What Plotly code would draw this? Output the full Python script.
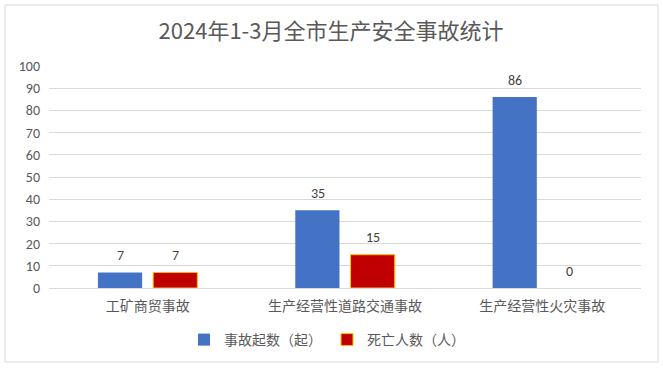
import plotly.graph_objects as go

categories = ["工矿商贸事故", "生产经营性道路交通事故", "生产经营性火灾事故"]
accidents = [7, 35, 86]
deaths = [7, 15, 0]
series_names = ["事故起数（起）", "死亡人数（人）"]
title = "2024年1-3月全市生产安全事故统计"

W, H = 663, 370
L, R, T, B = 49, 22, 66, 82
pw, ph = W - L - R, H - T - B

font = "Microsoft YaHei, Noto Sans CJK SC, sans-serif"
numfont = "Carlito, Calibri, Liberation Sans, Noto Sans CJK SC, sans-serif"

fig = go.Figure()
fig.add_trace(go.Bar(
    x=categories, y=accidents, name=series_names[0],
    marker=dict(color="#4472C4", line=dict(width=0)),
))
fig.add_trace(go.Bar(
    x=categories, y=deaths, name=series_names[1],
    marker=dict(color="#C00000",
                line=dict(color="#FFC000", width=[1 if v > 0 else 0 for v in deaths])),
))

annotations = []
for vals, dx in ((accidents, -27.5), (deaths, 27.5)):
    for c, v in zip(categories, vals):
        annotations.append(dict(
            x=c, y=v, xref="x", yref="y", text=str(v), showarrow=False,
            xshift=dx, yshift=17, yanchor="middle",
            font=dict(size=14, color="#404040", family=numfont),
        ))

fig.update_layout(
    width=W, height=H,
    margin=dict(l=L, r=R, t=T, b=B),
    paper_bgcolor="white", plot_bgcolor="white",
    font=dict(family=font, color="#595959", size=12),
    title=dict(text=title, x=(331 - 0) / W, xanchor="center", y=1 - 31 / H, yanchor="middle",
               font=dict(size=22, color="#595959", family=font)),
    barmode="group", bargap=0.44, bargroupgap=0.2,
    showlegend=True,
    legend=dict(orientation="h", x=(327 - L) / pw, xanchor="center", y=-(340 - 288) / ph, yanchor="middle",
                font=dict(size=14, color="#595959"), itemwidth=30, tracegroupgap=0),
    xaxis=dict(showgrid=False, showline=True, linecolor="#d9d9d9", linewidth=1,
               ticks="", ticklabelstandoff=5, tickfont=dict(size=14, color="#595959")),
    yaxis=dict(range=[0, 100], dtick=10, showgrid=True, gridcolor="#d9d9d9", gridwidth=1,
               zeroline=False, showline=False, ticks="", ticklabelstandoff=8,
               tickfont=dict(size=14, color="#595959", family=numfont)),
    annotations=annotations,
    shapes=[dict(type="rect", xref="paper", yref="paper",
                 x0=(5 - L) / pw, x1=(658 - L) / pw,
                 y0=-(362 - T - ph) / ph, y1=1 + (T - 5) / ph,
                 line=dict(color="#d9d9d9", width=1), fillcolor="rgba(0,0,0,0)", layer="below")],
)

fig.write_html("out.html", config={"displayModeBar": False},
               post_script="document.body.style.margin='0';document.body.style.padding='0';")
